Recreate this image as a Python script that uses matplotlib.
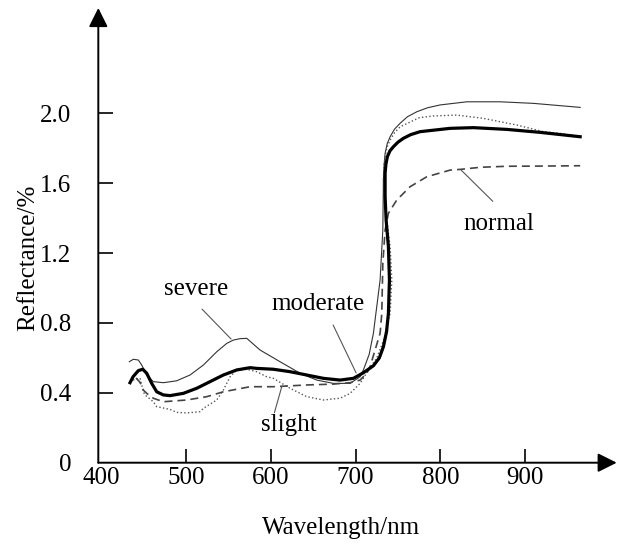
import matplotlib.pyplot as plt

plt.rcParams["font.family"] = ["Liberation Serif", "DejaVu Serif"]

# Reflectance curves (wavelength in nm, reflectance in %)
normal_wl = [441.0, 445.7, 449.6, 453.6, 461.4, 473.2, 500.8, 524.4, 544.0, 575.5,
             603.0, 642.4, 673.8, 693.5, 705.3, 713.2, 717.1, 728.9, 730.9, 732.1,
             734.8, 738.7, 748.6, 764.3, 784.0, 811.5, 823.3, 846.9, 878.4, 917.7, 964.9]
normal_refl = [0.485, 0.460, 0.416, 0.397, 0.369, 0.349, 0.359, 0.378, 0.406, 0.435,
               0.435, 0.445, 0.450, 0.458, 0.473, 0.512, 0.550, 0.741, 0.855, 1.141,
               1.332, 1.428, 1.504, 1.580, 1.637, 1.675, 1.679, 1.691, 1.697, 1.698, 1.700]

slight_wl = [437.5, 445.7, 449.6, 451.6, 461.4, 465.4, 481.1, 489.0, 500.8, 516.5,
             520.4, 536.2, 544.0, 551.9, 559.8, 571.6, 583.4, 595.2, 603.0, 622.7,
             642.4, 662.0, 681.7, 693.5, 705.3, 715.1, 725.0, 733.0, 740.7, 742.7,
             740.7, 736.8, 732.8, 733.5, 734.8, 737.0, 740.7, 746.0, 752.5, 764.3,
             775.0, 791.8, 819.4, 850.8, 890.2, 921.6, 941.3, 964.9]
slight_refl = [0.473, 0.484, 0.406, 0.388, 0.349, 0.321, 0.305, 0.288, 0.285, 0.292,
               0.311, 0.359, 0.416, 0.492, 0.531, 0.535, 0.521, 0.492, 0.483, 0.426,
               0.378, 0.359, 0.369, 0.397, 0.454, 0.531, 0.600, 0.700, 0.855, 1.046,
               1.236, 1.389, 1.618, 1.700, 1.752, 1.805, 1.847, 1.890, 1.923, 1.950,
               1.975, 1.985, 1.990, 1.971, 1.933, 1.895, 1.885, 1.866]

moderate_wl = [433.9, 437.5, 443.7, 448.9, 453.6, 459.5, 465.4, 473.2, 481.1, 496.8,
               512.6, 528.3, 544.0, 559.8, 575.5, 583.4, 603.0, 622.7, 642.4, 662.0,
               681.7, 697.4, 709.2, 721.0, 728.0, 732.8, 736.5, 738.7, 739.9, 738.7,
               736.0, 734.8, 734.8, 735.8, 737.5, 740.5, 744.6, 750.0, 756.4, 765.0,
               776.1, 811.5, 839.0, 878.4, 917.7, 964.9]
moderate_refl = [0.458, 0.492, 0.527, 0.535, 0.512, 0.454, 0.406, 0.388, 0.384, 0.397,
                 0.426, 0.464, 0.502, 0.531, 0.544, 0.540, 0.535, 0.521, 0.502, 0.483,
                 0.473, 0.483, 0.515, 0.555, 0.600, 0.664, 0.750, 0.855, 1.046, 1.236,
                 1.389, 1.523, 1.657, 1.710, 1.752, 1.785, 1.809, 1.835, 1.857, 1.878,
                 1.895, 1.914, 1.918, 1.908, 1.891, 1.866]

severe_wl = [433.1, 437.8, 443.7, 447.7, 453.6, 461.4, 473.2, 489.0, 504.7, 520.4,
             536.2, 548.0, 555.8, 563.7, 571.6, 587.3, 610.9, 634.5, 654.2, 673.8,
             693.5, 705.3, 709.2, 716.0, 721.0, 728.9, 732.1, 732.8, 733.6, 734.8,
             737.2, 740.7, 746.0, 752.5, 761.0, 772.2, 785.0, 799.7, 831.2, 870.5,
             909.8, 964.9]
severe_refl = [0.578, 0.592, 0.588, 0.559, 0.502, 0.464, 0.458, 0.469, 0.502, 0.559,
               0.635, 0.683, 0.702, 0.710, 0.712, 0.645, 0.578, 0.512, 0.473, 0.454,
               0.454, 0.492, 0.531, 0.620, 0.741, 1.046, 1.332, 1.618, 1.705, 1.771,
               1.825, 1.866, 1.910, 1.943, 1.980, 2.009, 2.032, 2.048, 2.066, 2.066,
               2.057, 2.034]

x_ticks = [400, 500, 600, 700, 800, 900]
y_ticks = [0, 0.4, 0.8, 1.2, 1.6, 2.0]
y_tick_labels = ["0", "0.4", "0.8", "1.2", "1.6", "2.0"]

# label text, text position, leader line start/end
labels = [
    ("severe", (511.4, 0.960), (518.9, 0.879), (553.1, 0.708)),
    ("moderate", (655.2, 0.873), (673.5, 0.788), (700.6, 0.514)),
    ("slight", (621.5, 0.181), (604.2, 0.286), (612.9, 0.435)),
    ("normal", (869.3, 1.331), (861.9, 1.496), (824.5, 1.675)),
]

fig = plt.figure(figsize=(6.21, 5.47), dpi=100)
ax = fig.add_axes([0.1583, 0.1541, 0.8348, 0.8313])

smooth = dict(solid_joinstyle="round", dash_joinstyle="round")
ax.plot(severe_wl, severe_refl, color="#333333", lw=0.8, **smooth)
ax.plot(slight_wl, slight_refl, color="#555555", lw=1.0, ls=":", **smooth)
ax.plot(normal_wl, normal_refl, color="#444444", lw=1.2, ls=(0, (4.8, 3)), **smooth)
ax.plot(moderate_wl, moderate_refl, color="black", lw=2.3, **smooth)

for text, pos, start, end in labels:
    ax.text(pos[0], pos[1], text, ha="center", va="baseline", fontsize=18)
    ax.annotate("", xy=end, xytext=start,
                arrowprops=dict(arrowstyle="-", color="#555555", lw=0.8,
                                shrinkA=0, shrinkB=0))

ax.set_xlim(396.5, 1008)
ax.set_ylim(0, 2.603)
for side in ["top", "right", "left", "bottom"]:
    ax.spines[side].set_visible(False)

arrow = dict(arrowstyle="-|>,head_length=1.15,head_width=0.576", mutation_scale=10,
             lw=1.4, color="black", shrinkA=0, shrinkB=0)
ax.annotate("", xy=(1, 0), xytext=(0, 0), xycoords="axes fraction",
            textcoords="axes fraction", arrowprops=arrow, annotation_clip=False)
ax.annotate("", xy=(0, 1), xytext=(0, 0), xycoords="axes fraction",
            textcoords="axes fraction", arrowprops=arrow, annotation_clip=False)

ax.set_xticks(x_ticks)
ax.set_yticks(y_ticks)
ax.set_yticklabels(y_tick_labels)
ax.tick_params(axis="x", direction="in", length=10, width=1.2, pad=3, labelsize=18)
ax.tick_params(axis="y", direction="in", length=11, width=1.2, pad=19.5, labelsize=18)
ax.xaxis.get_major_ticks()[0].tick1line.set_visible(False)
ax.yaxis.get_major_ticks()[0].tick1line.set_visible(False)

ax.set_xlabel("Wavelength/nm", fontsize=18)
ax.set_ylabel("Reflectance/%", fontsize=18)
ax.xaxis.set_label_coords(0.468, -0.119)
ax.yaxis.set_label_coords(-0.114, 0.451)

fig.savefig("out.png", dpi=100)
